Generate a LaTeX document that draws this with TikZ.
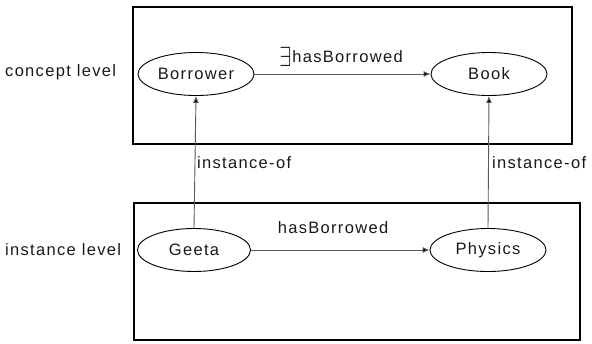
\documentclass[tikz,border=0pt]{standalone}
\usepackage{fontspec}
\usepackage{graphicx}
\setmainfont{Liberation Sans}[LetterSpace=8]
\usetikzlibrary{shapes.geometric,arrows.meta}
\newcommand{\tallexists}{\raisebox{-4pt}{\scalebox{1.25}[1.6]{$\exists$}}\hspace{1pt}}
\begin{document}
\begin{tikzpicture}[x=1pt,y=-1pt,
  every node/.style={font=\fontsize{16.5}{19}\selectfont, inner sep=0pt, text=black!90},
  levelbox/.style={draw=black, line width=1.3pt},
  concept/.style={ellipse, draw=black, line width=0.9pt, minimum width=116pt, minimum height=43pt},
  rel/.style={draw=black!65, line width=0.9pt, -{Latex[length=7pt,width=6pt,fill=black]}},
  lbl/.style={anchor=west}]
\useasboundingbox (0,0) rectangle (592,343);
% boxes
\draw[levelbox] (133,7) rectangle (572,144);
\draw[levelbox] (134,203) rectangle (580,340);
% nodes
\node[concept] (borrower) at (196,74) {Borrower};
\node[concept] (book) at (489,74) {Book};
\node[concept, minimum width=113pt] (geeta) at (194,250) {Geeta};
\node[concept] (physics) at (488,250) {Physics};
% level labels
\node[lbl] (cl) at (5,72) {concept level};
\node[lbl] (il) at (5,250) {instance level};
% connectors
\draw[rel] (borrower) -- (book);
\node (r1) at (341,57) {\tallexists hasBorrowed};
\draw[rel] (geeta) -- (physics);
\node (r2) at (333,228) {hasBorrowed};
\draw[rel] (geeta.north) -- (borrower.south);
\draw[rel] (physics.north) -- (book.south);
\node[lbl] (io1) at (197,163) {instance-of};
\node[lbl] (io2) at (492,163) {instance-of};
\end{tikzpicture}
\end{document}
